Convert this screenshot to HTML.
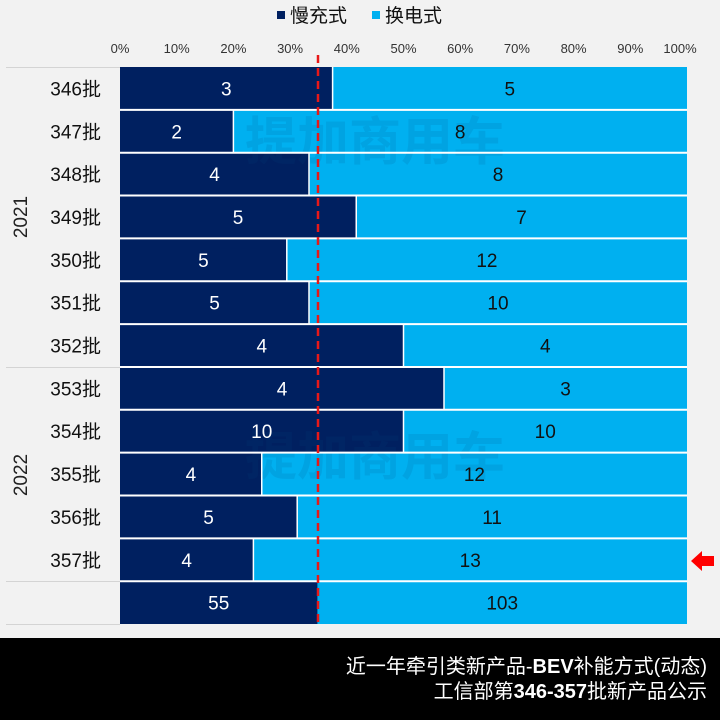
<!DOCTYPE html>
<html><head><meta charset="utf-8"><style>
html,body{margin:0;padding:0;background:#f2f2f2;}
svg{display:block;font-family:"Liberation Sans","Noto Sans CJK SC",sans-serif;}
</style></head><body>
<svg width="720" height="720" viewBox="0 0 720 720" xmlns="http://www.w3.org/2000/svg">
<rect width="720" height="720" fill="#f2f2f2"/>
<rect x="277" y="11" width="8" height="8" fill="#002060"/>
<text x="290" y="22" font-size="19" fill="#111">慢充式</text>
<rect x="372" y="11" width="8" height="8" fill="#00b0f0"/>
<text x="385" y="22" font-size="19" fill="#111">换电式</text>
<g font-size="13" fill="#333" text-anchor="middle">
<text x="120" y="53">0%</text><text x="176.7" y="53">10%</text><text x="233.4" y="53">20%</text>
<text x="290.1" y="53">30%</text><text x="346.8" y="53">40%</text><text x="403.5" y="53">50%</text>
<text x="460.2" y="53">60%</text><text x="516.9" y="53">70%</text><text x="573.6" y="53">80%</text>
<text x="630.3" y="53">90%</text><text x="680" y="53">100%</text>
</g>
<rect x="120" y="67" width="567" height="557" fill="#00b0f0"/>
<g fill="#002060">
<rect x="120" y="67" width="212.6" height="42.85"/>
<rect x="120" y="109.85" width="113.4" height="42.85"/>
<rect x="120" y="152.7" width="189" height="42.85"/>
<rect x="120" y="195.55" width="236.25" height="42.85"/>
<rect x="120" y="238.4" width="166.8" height="42.85"/>
<rect x="120" y="281.25" width="189" height="42.85"/>
<rect x="120" y="324.1" width="283.5" height="42.85"/>
<rect x="120" y="366.95" width="324" height="42.85"/>
<rect x="120" y="409.8" width="283.5" height="42.85"/>
<rect x="120" y="452.65" width="141.75" height="42.85"/>
<rect x="120" y="495.5" width="177.2" height="42.85"/>
<rect x="120" y="538.35" width="133.4" height="42.85"/>
<rect x="120" y="581.2" width="197.4" height="42.8"/>
</g>
<g opacity="0.12" font-size="52" font-weight="bold" fill="#004a80"><text x="245" y="160">提加商用车</text><text x="245" y="475">提加商用车</text></g>
<g stroke="#fff" stroke-width="1.5">
<line x1="332.6" y1="67" x2="332.6" y2="109.85"/>
<line x1="233.4" y1="109.85" x2="233.4" y2="152.7"/>
<line x1="309" y1="152.7" x2="309" y2="195.55"/>
<line x1="356.25" y1="195.55" x2="356.25" y2="238.4"/>
<line x1="286.8" y1="238.4" x2="286.8" y2="281.25"/>
<line x1="309" y1="281.25" x2="309" y2="324.1"/>
<line x1="403.5" y1="324.1" x2="403.5" y2="366.95"/>
<line x1="444" y1="366.95" x2="444" y2="409.8"/>
<line x1="403.5" y1="409.8" x2="403.5" y2="452.65"/>
<line x1="261.75" y1="452.65" x2="261.75" y2="495.5"/>
<line x1="297.2" y1="495.5" x2="297.2" y2="538.35"/>
<line x1="253.4" y1="538.35" x2="253.4" y2="581.2"/>
</g>
<g stroke="#fff" stroke-width="2">
<line x1="120" y1="109.85" x2="687" y2="109.85"/>
<line x1="120" y1="152.7" x2="687" y2="152.7"/>
<line x1="120" y1="195.55" x2="687" y2="195.55"/>
<line x1="120" y1="238.4" x2="687" y2="238.4"/>
<line x1="120" y1="281.25" x2="687" y2="281.25"/>
<line x1="120" y1="324.1" x2="687" y2="324.1"/>
<line x1="120" y1="366.95" x2="687" y2="366.95"/>
<line x1="120" y1="409.8" x2="687" y2="409.8"/>
<line x1="120" y1="452.65" x2="687" y2="452.65"/>
<line x1="120" y1="495.5" x2="687" y2="495.5"/>
<line x1="120" y1="538.35" x2="687" y2="538.35"/>
<line x1="120" y1="581.2" x2="687" y2="581.2"/>
</g>
<g font-size="19" fill="#fff" text-anchor="middle">
<text x="226.3" y="95.4">3</text><text x="176.7" y="138.3">2</text><text x="214.5" y="181.1">4</text>
<text x="238.1" y="224">5</text><text x="203.4" y="266.8">5</text><text x="214.5" y="309.7">5</text>
<text x="261.75" y="352.5">4</text><text x="282" y="395.4">4</text><text x="261.75" y="438.2">10</text>
<text x="190.9" y="481.1">4</text><text x="208.6" y="523.9">5</text><text x="186.7" y="566.8">4</text>
<text x="218.7" y="609.6">55</text>
</g>
<g font-size="19" fill="#111" text-anchor="middle">
<text x="509.8" y="95.4">5</text><text x="460.2" y="138.3">8</text><text x="498" y="181.1">8</text>
<text x="521.6" y="224">7</text><text x="486.9" y="266.8">12</text><text x="498" y="309.7">10</text>
<text x="545.25" y="352.5">4</text><text x="565.5" y="395.4">3</text><text x="545.25" y="438.2">10</text>
<text x="474.4" y="481.1">12</text><text x="492.1" y="523.9">11</text><text x="470.2" y="566.8">13</text>
<text x="502.2" y="609.6">103</text>
</g>
<g font-size="19" fill="#111" text-anchor="end">
<text x="101" y="95.4">346批</text><text x="101" y="138.3">347批</text><text x="101" y="181.1">348批</text>
<text x="101" y="224">349批</text><text x="101" y="266.8">350批</text><text x="101" y="309.7">351批</text>
<text x="101" y="352.5">352批</text><text x="101" y="395.4">353批</text><text x="101" y="438.2">354批</text>
<text x="101" y="481.1">355批</text><text x="101" y="523.9">356批</text><text x="101" y="566.8">357批</text>
</g>
<line x1="318" y1="55" x2="318" y2="624" stroke="#e81818" stroke-width="2.5" stroke-dasharray="8,5"/>
<g stroke="#d4d4d4" stroke-width="1">
<line x1="6" y1="67.5" x2="120" y2="67.5"/>
<line x1="6" y1="367.5" x2="120" y2="367.5"/>
<line x1="6" y1="581.5" x2="120" y2="581.5"/>
<line x1="6" y1="624.5" x2="120" y2="624.5"/>
</g>
<text transform="translate(27,217) rotate(-90)" font-size="19" fill="#222" text-anchor="middle">2021</text>
<text transform="translate(27,475) rotate(-90)" font-size="19" fill="#222" text-anchor="middle">2022</text>
<polygon points="691,561 702,551 702,556 714,556 714,566 702,566 702,571" fill="#ff0000"/>
<rect x="0" y="638" width="720" height="82" fill="#000"/>
<text x="707" y="673" font-size="20" fill="#fff" text-anchor="end">近一年牵引类新产品-<tspan font-weight="bold">BEV</tspan>补能方式(动态)</text>
<text x="707" y="698" font-size="20" fill="#fff" text-anchor="end">工信部第<tspan font-weight="bold">346-357</tspan>批新产品公示</text>
</svg>
</body></html>
